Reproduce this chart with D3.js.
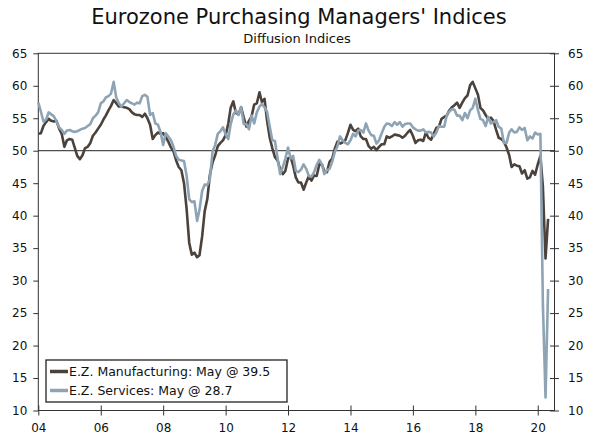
<!DOCTYPE html>
<html>
<head>
<meta charset="utf-8">
<script src="https://cdn.jsdelivr.net/npm/d3@7"></script>
<style>
  html, body { margin: 0; padding: 0; background: #fff; }
  svg { display: block; font-family: "DejaVu Sans", Verdana, sans-serif; }
</style>
</head>
<body>
<svg id="chart" width="600" height="439"></svg>
<script>
// ---- Data (monthly, Jan 2004 - May 2020) ----
const startYear = 2004;
const manufacturing = [
  52.6, 52.7, 53.8, 54.4, 54.9, 54.6, 54.5, 54.6, 53.4, 52.6, 50.6, 51.6,
  51.8, 51.7, 50.5, 49.2, 48.7, 49.3, 50.4, 50.6, 51.2, 52.3, 52.8, 53.4,
  54.0, 54.8, 55.4, 56.2, 56.9, 57.8, 57.3, 56.8, 56.8, 56.7, 56.6, 56.4,
  55.9, 55.6, 55.5, 55.5, 55.2, 55.7, 55.0, 54.0, 51.8, 52.4, 52.8, 52.6,
  52.7, 52.1, 51.4, 50.5, 49.9, 48.5, 47.5, 47.0, 45.0, 41.1, 35.8, 34.0,
  34.3, 33.6, 33.9, 36.8, 40.7, 42.6, 46.3, 48.2, 49.3, 50.7, 51.2, 51.6,
  52.4, 54.2, 56.6, 57.6, 55.8, 55.6, 56.7, 55.1, 53.7, 54.6, 55.3, 57.1,
  57.3, 59.0, 57.5, 58.0, 54.6, 52.0, 50.4, 49.0, 48.5, 47.1, 46.4, 46.9,
  48.8, 49.0, 47.7, 45.9, 45.1, 45.1, 44.0, 45.1, 46.1, 45.4, 46.2, 46.1,
  47.9, 47.9, 46.8, 46.7, 48.3, 48.8, 50.3, 51.4, 51.1, 51.3, 51.6, 52.7,
  54.0, 53.2, 53.0, 53.4, 52.2, 51.8, 51.8, 50.7, 50.3, 50.6, 50.1, 50.6,
  51.0, 51.0, 52.2, 52.0, 52.2, 52.5, 52.4, 52.3, 52.0, 52.3, 52.8, 53.2,
  52.3, 51.2, 51.6, 51.7, 51.5, 52.8, 52.0, 51.7, 52.6, 53.5, 53.7, 54.9,
  55.2, 55.4, 56.2, 56.7, 57.0, 57.4, 56.6, 57.4, 58.1, 58.5, 60.1, 60.6,
  59.6, 58.6, 56.6, 56.2, 55.5, 54.9, 55.1, 54.6, 53.2, 52.0, 51.8, 51.4,
  50.5, 49.3, 47.5, 47.9, 47.7, 47.6, 46.5, 47.0, 45.7, 45.9, 46.9, 46.3,
  47.9, 49.2, 44.5, 33.4, 39.5
];
const services = [
  57.4, 56.0, 54.5, 54.8, 55.9, 55.6, 55.3, 54.5, 53.6, 53.2, 52.6, 53.1,
  53.2, 53.0, 52.9, 53.0, 53.2, 53.4, 53.5, 53.8, 54.1, 55.0, 55.4, 55.9,
  57.3, 57.6, 58.2, 58.4, 58.8, 60.6, 58.2, 57.3, 56.8, 57.3, 57.8, 57.5,
  57.3, 57.1, 57.4, 57.3, 58.4, 58.6, 58.3, 55.5, 55.8, 54.2, 54.0, 52.9,
  50.9, 52.7, 52.2, 51.6, 50.6, 49.2, 48.6, 48.5, 48.4, 46.2, 42.5, 42.1,
  42.2, 39.2, 40.9, 43.8, 44.8, 44.7, 45.7, 49.9, 50.9, 52.6, 53.0, 53.6,
  52.5, 51.8, 54.1, 55.6, 56.2, 55.5, 56.7, 54.1, 54.1, 53.3, 55.4, 54.2,
  55.9, 56.8, 57.2, 56.7, 56.0, 53.7, 51.6, 51.5, 48.8, 46.4, 47.5, 48.8,
  50.5, 48.8, 49.2, 46.9, 46.7, 47.1, 47.9, 47.2, 46.1, 46.0, 46.7, 47.8,
  48.6, 47.9, 46.4, 47.0, 47.2, 48.3, 49.8, 50.7, 52.2, 51.6, 51.2, 51.0,
  51.6, 52.6, 52.2, 53.1, 53.2, 52.8, 54.2, 53.1, 52.4, 52.3, 51.1, 51.6,
  52.7, 53.7, 54.2, 54.1, 53.8, 54.4, 54.0, 54.4, 53.7, 54.1, 54.2, 54.2,
  53.6, 53.3, 53.1, 53.1, 53.3, 52.8, 52.9, 52.8, 52.2, 52.8, 53.8, 53.7,
  53.7, 55.5, 56.0, 56.4, 56.3, 55.4, 55.4, 54.7, 55.8, 55.0, 56.2, 56.6,
  58.0, 56.2, 54.9, 54.7, 53.8, 55.2, 54.2, 54.4, 54.7, 53.7, 53.4, 51.2,
  51.2, 52.8, 53.3, 52.8, 52.9, 53.6, 53.2, 53.5, 51.6, 52.2, 51.9, 52.8,
  52.5, 52.6, 26.4, 12.0, 28.7
];
const yTicks = [10, 15, 20, 25, 30, 35, 40, 45, 50, 55, 60, 65];
const xTickYears = [2004, 2006, 2008, 2010, 2012, 2014, 2016, 2018, 2020];
const seriesNames = ["E.Z. Manufacturing: May @ 39.5", "E.Z. Services: May @ 28.7"];
const titleText = "Eurozone Purchasing Managers' Indices";
const subtitleText = "Diffusion Indices";

// ---- Layout ----
const L = 38.3, R = 554.5, T = 53.3, B = 410.5;
const colors = ["#4b423c", "#8ea4b4"];
const axisColor = "#333";

const svg = d3.select("#chart");
const x = d3.scaleTime()
  .domain([new Date(2004, 0, 1), new Date(2020, 6, 15)])
  .range([L, R]);
const y = d3.scaleLinear().domain([10, 65]).range([B, T]);

const dates = manufacturing.map((_, i) => new Date(startYear, i, 1));

// Title
svg.append("text").attr("x", 299).attr("y", 24)
  .attr("text-anchor", "middle").attr("font-size", 21).attr("fill", "#111")
  .text(titleText);
svg.append("text").attr("x", 297).attr("y", 42.5)
  .attr("text-anchor", "middle").attr("font-size", 13).attr("fill", "#111")
  .text(subtitleText);

// Axes
function styleAxis(g) {
  g.select(".domain").remove();
  g.selectAll(".tick line").attr("stroke", axisColor);
  g.selectAll(".tick text").attr("fill", "#111").attr("font-size", 12)
    .attr("font-family", '"DejaVu Sans", Verdana, sans-serif');
}
svg.append("g").attr("transform", `translate(${L},0)`)
  .call(d3.axisLeft(y).tickValues(yTicks).tickSize(5).tickPadding(6))
  .call(styleAxis);
svg.append("g").attr("transform", `translate(${R - 4.5},0)`)
  .call(d3.axisRight(y).tickValues(yTicks).tickSize(9).tickPadding(9))
  .call(styleAxis);
svg.append("g").attr("transform", `translate(0,${B - 5})`)
  .call(d3.axisBottom(x).tickValues(xTickYears.map(yy => new Date(yy, 0, 1)))
    .tickFormat(d3.timeFormat("%y")).tickSize(10).tickPadding(8))
  .call(styleAxis);

// Frame
svg.append("rect").attr("x", L).attr("y", T).attr("width", R - L).attr("height", B - T)
  .attr("fill", "none").attr("stroke", axisColor).attr("stroke-width", 1);

// 50 line
svg.append("line").attr("x1", L).attr("x2", R).attr("y1", y(50)).attr("y2", y(50))
  .attr("stroke", "#222").attr("stroke-width", 1);

// Lines
const line = d3.line().x((d, i) => x(dates[i])).y(d => y(d));
[manufacturing, services].forEach((s, k) => {
  svg.append("path").datum(s).attr("d", line)
    .attr("fill", "none").attr("stroke", colors[k]).attr("stroke-width", 2.6)
    .attr("stroke-linejoin", "round");
});

// Legend
const lg = svg.append("g");
lg.append("rect").attr("x", 46).attr("y", 360).attr("width", 241).attr("height", 42)
  .attr("fill", "#fff").attr("stroke", "#222").attr("stroke-width", 1.3);
seriesNames.forEach((name, k) => {
  const cy = 371.5 + k * 19;
  lg.append("line").attr("x1", 50).attr("x2", 68).attr("y1", cy).attr("y2", cy)
    .attr("stroke", colors[k]).attr("stroke-width", 3.5);
  lg.append("text").attr("x", 69).attr("y", cy + 4.5).attr("font-size", 12.5)
    .attr("fill", "#111").text(name);
});
</script>
</body>
</html>
